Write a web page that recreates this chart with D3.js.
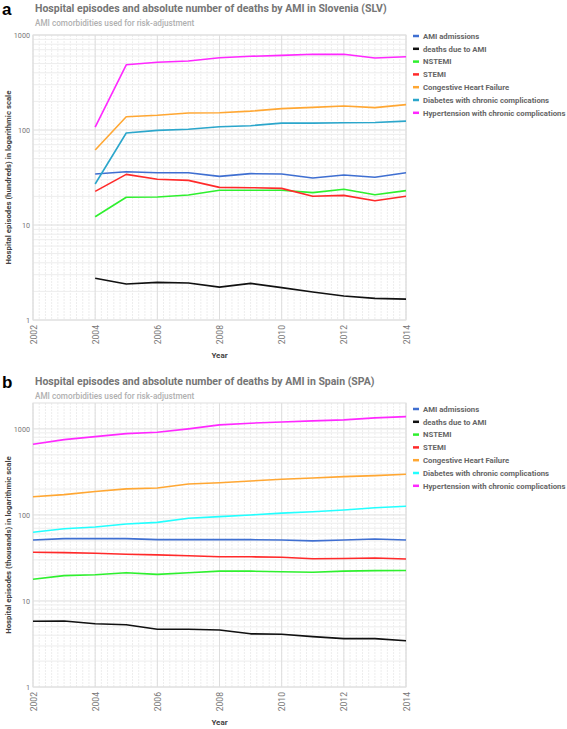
<!DOCTYPE html>
<html><head><meta charset="utf-8">
<script src="https://cdn.jsdelivr.net/npm/d3@7"></script>
<style>
body{margin:0;background:#fff;font-family:Roboto,"Noto Sans",sans-serif;}
svg text{font-family:Roboto,"Noto Sans",sans-serif;}
</style></head><body>
<svg id="c" width="567" height="729"></svg>
<script>
const seriesNames = ["AMI admissions","deaths due to AMI","NSTEMI","STEMI","Congestive Heart Failure","Diabetes with chronic complications","Hypertension with chronic complications"];
const yearsA = [2004,2005,2006,2007,2008,2009,2010,2011,2012,2013,2014];
const slvAMI   = [34.4,36.4,35.5,35.5,32.5,34.7,34.4,31.2,33.6,31.8,35.5];
const slvDeath = [2.75,2.39,2.49,2.45,2.22,2.43,2.19,1.97,1.79,1.69,1.66];
const slvNSTEMI= [12.2,19.6,19.7,20.7,23.2,23.2,23.2,21.9,23.8,20.8,23.0];
const slvSTEMI = [22.6,34.1,30.3,29.5,24.9,24.7,24.3,20.1,20.5,18.0,20.1];
const slvCHF   = [61.5,138,143,151,152,158,168,173,179,172,185];
const slvDiab  = [27,93,99,102,108,111,118,118,119,120,124];
const slvHyp   = [107,486,516,532,577,597,611,626,626,572,591];
const yearsB = [2002,2003,2004,2005,2006,2007,2008,2009,2010,2011,2012,2013,2014];
const spaAMI   = [51.2,53,53,53,51.6,51.6,51.6,51.6,51.2,49.9,51.2,52.6,51.2];
const spaDeath = [5.8,5.85,5.44,5.3,4.69,4.69,4.6,4.15,4.1,3.85,3.65,3.65,3.45];
const spaNSTEMI= [17.9,19.7,20.2,21.3,20.4,21.3,22.2,22.2,21.9,21.6,22.2,22.5,22.6];
const spaSTEMI = [36.8,36.5,35.9,34.9,34.3,33.6,32.7,32.6,32.2,31.0,31.2,31.6,30.8];
const spaCHF   = [163,172,187,201,206,229,237,248,260,269,279,286,297];
const spaDiab  = [63,69,72.5,78.5,82,91.5,95.5,100,105,109,114,121,126];
const spaHyp   = [664,751,814,881,915,1000,1113,1165,1205,1238,1273,1343,1390];
const xTicks = [2002,2004,2006,2008,2010,2012,2014];
const yTicks = [1,10,100,1000];

const colorsA = ["#3f6fd1","#111111","#2ef02e","#ff2a2a","#ffa733","#2ba6cb","#ff28ff"];
const colorsB = ["#3f6fd1","#111111","#2ef02e","#ff2a2a","#ffa733","#22ffff","#ff28ff"];

const svg = d3.select("#c");

function chart(cfg){
  const g = svg.append("g");
  const x = d3.scaleLinear().domain([2002,2014]).range([cfg.left,cfg.right]);
  const y = d3.scaleLog().domain(cfg.ydom).range([cfg.bottom,cfg.top]);
  g.append("text").attr("x",2).attr("y",cfg.titleY+3).text(cfg.letter)
    .attr("font-size",17).attr("font-weight","bold").attr("fill","#000").style("font-family","Arial,Liberation Sans,sans-serif");
  g.append("text").attr("x",35).attr("y",cfg.titleY).text(cfg.title)
    .attr("font-size",10.5).attr("font-weight","bold").attr("fill","#757575");
  g.append("text").attr("x",35).attr("y",cfg.titleY+14).text("AMI comorbidities used for risk-adjustment")
    .attr("font-size",8.2).attr("font-weight",500).attr("fill","#b0b0b0");
  const minorX = d3.range(2002,2014.0001,0.2);
  g.append("g").selectAll("line").data(minorX).join("line")
    .attr("x1",d=>x(d)).attr("x2",d=>x(d)).attr("y1",cfg.top).attr("y2",cfg.bottom)
    .attr("stroke","#ededed").attr("stroke-width",1).attr("stroke-dasharray","2,1");
  const minorY = [];
  for(let p=1;p<=1000;p*=10){ for(let k=2;k<=9;k++){ const v=p*k; if(v<cfg.ydom[1]) minorY.push(v);} }
  g.append("g").selectAll("line").data(minorY).join("line")
    .attr("x1",cfg.left).attr("x2",cfg.right).attr("y1",d=>y(d)).attr("y2",d=>y(d))
    .attr("stroke","#ededed").attr("stroke-width",1);
  g.append("g").selectAll("line").data(xTicks).join("line")
    .attr("x1",d=>x(d)).attr("x2",d=>x(d)).attr("y1",cfg.top).attr("y2",cfg.bottom)
    .attr("stroke","#dedede").attr("stroke-width",1);
  g.append("g").selectAll("line").data(yTicks).join("line")
    .attr("x1",cfg.left).attr("x2",cfg.right).attr("y1",d=>y(d)).attr("y2",d=>y(d))
    .attr("stroke","#dedede").attr("stroke-width",1);
  g.append("rect").attr("x",cfg.left).attr("y",cfg.top).attr("width",cfg.right-cfg.left).attr("height",cfg.bottom-cfg.top)
    .attr("fill","none").attr("stroke","#e0e0e0");
  const ya = d3.axisLeft(y).tickValues(yTicks).tickFormat(d3.format("d")).tickSize(0).tickPadding(3);
  const yg = g.append("g").attr("transform",`translate(${cfg.left},0)`).call(ya);
  yg.select(".domain").remove();
  yg.selectAll("text").attr("font-size",7.2).attr("fill","#777");
  const xa = d3.axisBottom(x).tickValues(xTicks).tickFormat(d3.format("d")).tickSize(0).tickPadding(0);
  const xg = g.append("g").attr("transform",`translate(0,${cfg.bottom})`).call(xa);
  xg.select(".domain").remove();
  xg.selectAll("text").attr("font-size",8.6).attr("fill","#777")
    .attr("transform","rotate(-90)").attr("text-anchor","end").attr("dy","0.35em").attr("x",-5).attr("y",0);
  g.append("text").attr("x",(cfg.left+cfg.right)/2).attr("y",cfg.bottom+38).attr("text-anchor","middle")
    .text("Year").attr("font-size",8).attr("font-weight","bold").attr("fill","#444");
  g.append("text").attr("transform",`translate(11,${(cfg.top+cfg.bottom)/2}) rotate(-90)`).attr("text-anchor","middle")
    .text(cfg.ylabel).attr("font-size",7.8).attr("font-weight","bold").attr("fill","#444");
  const line = d3.line().x(d=>x(d[0])).y(d=>y(d[1]));
  cfg.series.forEach((s,i)=>{
    g.append("path").datum(cfg.years.map((yr,j)=>[yr,s[j]]))
      .attr("d",line).attr("fill","none").attr("stroke",cfg.colors[i]).attr("stroke-width",1.6)
      .attr("stroke-linejoin","round");
  });
  const lg = g.append("g");
  seriesNames.forEach((n,i)=>{
    const ly = cfg.legendY + i*12.8;
    lg.append("line").attr("x1",413).attr("x2",419).attr("y1",ly).attr("y2",ly)
      .attr("stroke",cfg.colors[i]).attr("stroke-width",2.5);
    lg.append("text").attr("x",423).attr("y",ly).attr("dy","0.35em").text(n)
      .attr("font-size",7.75).attr("font-weight","bold").attr("fill","#666");
  });
}

chart({letter:"a",titleY:12,title:"Hospital episodes and absolute number of deaths by AMI in Slovenia (SLV)",
  left:33,right:406,top:35,bottom:320,ydom:[1,1000],years:yearsA,
  series:[slvAMI,slvDeath,slvNSTEMI,slvSTEMI,slvCHF,slvDiab,slvHyp],colors:colorsA,
  legendY:36,ylabel:"Hospital episodes (hundreds) in logarithmic scale"});
chart({letter:"b",titleY:385,title:"Hospital episodes and absolute number of deaths by AMI in Spain (SPA)",
  left:33,right:406,top:403,bottom:687,ydom:[1,2000],years:yearsB,
  series:[spaAMI,spaDeath,spaNSTEMI,spaSTEMI,spaCHF,spaDiab,spaHyp],colors:colorsB,
  legendY:409,ylabel:"Hospital episodes (thousands) in logarithmic scale"});
</script>
</body></html>
